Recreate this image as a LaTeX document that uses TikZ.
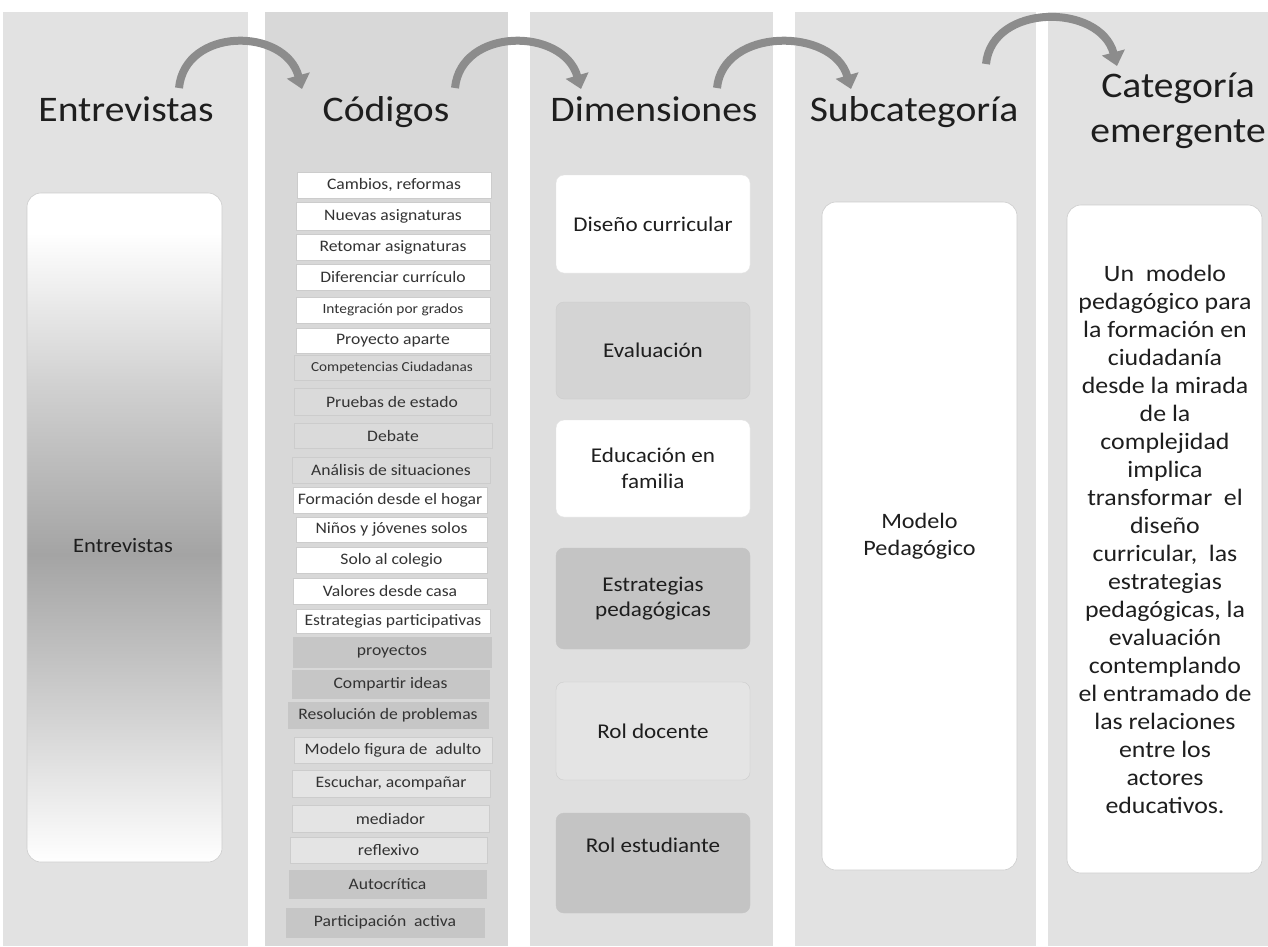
\documentclass[tikz,border=0pt]{standalone}
\usepackage{fontspec}
\setmainfont{Carlito}[FakeStretch=1.1]
\usetikzlibrary{arrows.meta}
\definecolor{colA}{HTML}{E2E2E2}
\definecolor{colB}{HTML}{D8D8D8}
\definecolor{colC}{HTML}{DFDFDF}
\definecolor{boxline}{HTML}{CCCCCC}
\definecolor{boxL}{HTML}{DADADA}
\definecolor{boxD}{HTML}{C6C6C6}
\definecolor{boxE}{HTML}{E4E4E4}
\definecolor{dimG}{HTML}{D4D4D4}
\definecolor{dimD}{HTML}{C4C4C4}
\definecolor{txtA}{HTML}{1E1E1E}
\definecolor{txtB}{HTML}{333333}
\definecolor{arrowc}{HTML}{8C8C8C}
\definecolor{shadeMid}{HTML}{A4A4A4}
\definecolor{shadeQ}{HTML}{D2D2D2}
\pgfdeclareverticalshading{entshade}{100bp}{color(0bp)=(white); color(25bp)=(white); color(36bp)=(shadeQ); color(48bp)=(shadeMid); color(61bp)=(shadeQ); color(72bp)=(white); color(100bp)=(white)}
\begin{document}
\begin{tikzpicture}[x=1pt,y=-1pt,
  column/.style={fill=#1,draw=none},
  title/.style={text=txtA,font=\fontsize{36}{44}\selectfont,inner sep=0pt,anchor=base},
  codebase/.style={draw=boxline,line width=0.6pt,text=txtB,font=\fontsize{16}{18}\selectfont,inner sep=0pt},
  codew/.style={codebase,fill=white},
  codel/.style={codebase,fill=boxL},
  coded/.style={codebase,fill=boxD,draw=boxD},
  codee/.style={codebase,fill=boxE},
  dimbase/.style={rounded corners=8pt,minimum width=194pt,text=txtA,font=\fontsize{21}{25.5}\selectfont,align=center,inner sep=0pt},
  dimw/.style={dimbase,fill=white,draw=boxE},
  dimg/.style={dimbase,fill=dimG,draw=boxline},
  dimd/.style={dimbase,fill=dimD,draw=dimD},
  dime/.style={dimbase,fill=boxE,draw=boxline},
  bigbox/.style={rounded corners=14pt,fill=white,draw=boxline,line width=0.6pt,minimum width=195pt,inner sep=0pt,text=txtA,align=center},
  flow/.style={draw=arrowc,line width=8pt,-{Triangle[width=23pt,length=14pt]}}
]
\useasboundingbox (0,0) rectangle (1268,946);
\fill[white] (0,0) rectangle (1268,946);
% columns
\fill[column=colA] (3,12) rectangle (248,946);
\fill[column=colB] (265,12) rectangle (508,946);
\fill[column=colC] (530,12) rectangle (773,946);
\fill[column=colA] (795,12) rectangle (1036,946);
\fill[column=colA] (1048,12) rectangle (1268,946);
% titles
\node[title] (t1) at (126,121) {Entrevistas};
\node[title] (t2) at (386,121) {Códigos};
\node[title] (t3) at (654,121) {Dimensiones};
\node[title] (t4) at (914,121) {Subcategoría};
\node[title] (t5a) at (1178,97) {Categoría};
\node[title] (t5b) at (1178,142) {emergente};
% arrows
\coordinate (a1s) at (179,88);  \coordinate (a1e) at (302,89);
\coordinate (a2s) at (455,88);  \coordinate (a2e) at (581,89);
\coordinate (a3s) at (717,88);  \coordinate (a3e) at (851,89);
\coordinate (a4s) at (986,64);  \coordinate (a4e) at (1117,66);
\draw[flow] (a1s) .. controls (185,27) and (285,27) .. (a1e);
\draw[flow] (a2s) .. controls (461,27) and (563,27) .. (a2e);
\draw[flow] (a3s) .. controls (723,27) and (833,27) .. (a3e);
\draw[flow] (a4s) .. controls (992,3) and (1100,3) .. (a4e);
% Entrevistas box
\node[rounded corners=14pt,shading=entshade,draw=boxline,line width=0.6pt,minimum width=195pt,minimum height=669pt,inner sep=0pt] (ebox) at (124.5,527.5) {};
\node[text=txtA,font=\fontsize{20.5}{24}\selectfont,inner sep=0pt] (elab) at (123,546) {Entrevistas};
% codes
\node[codew,minimum width=194pt,minimum height=26pt] (c1) at (394,185) {Cambios, reformas};
\node[codew,minimum width=194pt,minimum height=28pt] (c2) at (393,216.5) {Nuevas asignaturas};
\node[codew,minimum width=194pt,minimum height=26pt] (c3) at (393,247) {Retomar asignaturas};
\node[codew,minimum width=194pt,minimum height=26pt] (c4) at (393,277) {Diferenciar currículo};
\node[codew,minimum width=194pt,minimum height=26pt,font=\fontsize{14}{16}\selectfont] (c5) at (393,310) {Integración por grados};
\node[codew,minimum width=194pt,minimum height=25pt] (c6) at (393,340.5) {Proyecto aparte};
\node[codel,minimum width=196pt,minimum height=25pt,font=\fontsize{13.8}{15}\selectfont] (c7) at (392,367.5) {Competencias Ciudadanas};
\node[codel,minimum width=196pt,minimum height=27pt] (c8) at (392,401.5) {Pruebas de estado};
\node[codel,minimum width=198pt,minimum height=25pt] (c9) at (393,435.5) {Debate};
\node[codel,minimum width=198pt,minimum height=26pt] (c10) at (391,470) {Análisis de situaciones};
\node[codew,minimum width=194pt,minimum height=26pt] (c11) at (390,500) {Formación desde el hogar};
\node[codew,minimum width=191pt,minimum height=25pt] (c12) at (391.5,529.5) {Niños y jóvenes solos};
\node[codew,minimum width=191pt,minimum height=26pt] (c13) at (391.5,560) {Solo al colegio};
\node[codew,minimum width=194pt,minimum height=26pt] (c14) at (390,591) {Valores desde casa};
\node[codew,minimum width=194pt,minimum height=24pt] (c15) at (393,621) {Estrategias participativas};
\node[coded,minimum width=198pt,minimum height=30pt] (c16) at (392,652) {proyectos};
\node[coded,minimum width=197pt,minimum height=28pt] (c17) at (390.5,684) {Compartir ideas};
\node[coded,minimum width=200pt,minimum height=26pt] (c18) at (388,715) {Resolución de problemas};
\node[codee,minimum width=198pt,minimum height=26pt] (c19) at (393,750) {Modelo figura de~ adulto};
\node[codee,minimum width=198pt,minimum height=27pt] (c20) at (391,783.5) {Escuchar, acompañar};
\node[codee,minimum width=197pt,minimum height=27pt] (c21) at (390.5,818.5) {mediador};
\node[codee,minimum width=197pt,minimum height=26pt] (c22) at (388.5,850) {reflexivo};
\node[coded,minimum width=197pt,minimum height=28pt] (c23) at (387.5,884) {Autocrítica};
\node[coded,minimum width=198pt,minimum height=29pt] (c24) at (385,922.5) {Participación~ activa};
% dimensions
\node[dimw,minimum height=98pt] (d1) at (653,224) {Diseño curricular};
\node[dimg,minimum height=97pt] (d2) at (653,350.5) {Evaluación};
\node[dimw,minimum height=97pt] (d3) at (653,468.5) {Educación en\\familia};
\node[dimd,minimum height=101pt] (d4) at (653,598.5) {Estrategias\\pedagógicas};
\node[dime,minimum height=98pt] (d5) at (653,731) {Rol docente};
\node[dimd,minimum height=100pt] (d6) at (653,863) {};
\node[text=txtA,font=\fontsize{21}{25.5}\selectfont,inner sep=0pt] (d6t) at (653,845) {Rol estudiante};
% subcategory
\node[bigbox,minimum height=668pt,font=\fontsize{22}{26.5}\selectfont] (s1) at (919.5,536) {Modelo\\Pedagógico};
% category
\node[bigbox,minimum height=668pt] (k1) at (1164.5,539) {};
\node[text=txtA,font=\fontsize{23.5}{28}\selectfont,align=center,inner sep=0pt] (k1t) at (1165,539) {Un~ modelo\\pedagógico para\\la formación en\\ciudadanía\\desde la mirada\\de la\\complejidad\\implica\\transformar~ el\\diseño\\curricular,~ las\\estrategias\\pedagógicas, la\\evaluación\\contemplando\\el entramado de\\las relaciones\\entre los\\actores\\educativos.};
\end{tikzpicture}
\end{document}
